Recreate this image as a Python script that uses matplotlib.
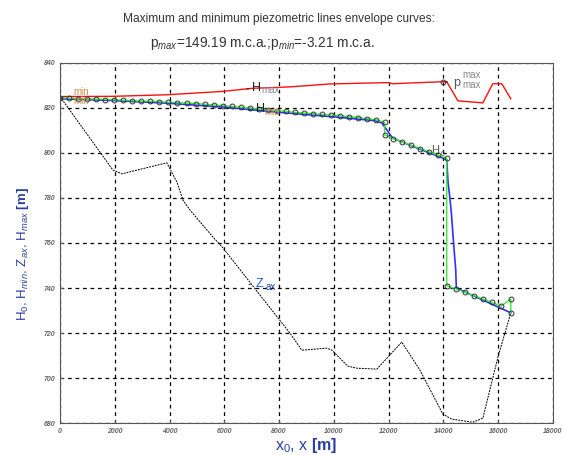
import matplotlib
matplotlib.use('Agg')
import matplotlib.pyplot as plt

plt.rcParams['font.family'] = ['Liberation Sans', 'DejaVu Sans']
plt.rcParams['mathtext.fontset'] = 'custom'
plt.rcParams['mathtext.rm'] = 'Liberation Sans'
plt.rcParams['mathtext.it'] = 'Liberation Sans:italic'
plt.rcParams['mathtext.bf'] = 'Liberation Sans:bold'

# H0 - initial piezometric line (nodes)
x0 = [0, 330, 660, 990, 1320, 1650, 1980, 2310, 2640, 2970, 3300, 3630, 3960,
      4290, 4620, 4950, 5280, 5610, 5940, 6270, 6600, 6930, 7260, 7590, 7920,
      8250, 8580, 8910, 9240, 9570, 9900, 10230, 10560, 10890, 11220, 11550,
      11850, 11850, 12170, 12500, 12820, 13150, 13470, 13800, 14120, 14120,
      14450, 14780, 15110, 15440, 15770, 16100, 16460, 16460]
h0 = [824.5, 824.3, 824.1, 824.0, 823.9, 823.7, 823.6, 823.4, 823.2, 823.0,
      822.9, 822.7, 822.5, 822.3, 822.1, 821.9, 821.6, 821.3, 821.0, 820.6,
      820.3, 819.9, 819.6, 819.2, 818.8, 818.4, 818.0, 817.7, 817.4, 817.1,
      816.8, 816.5, 816.1, 815.7, 815.2, 814.7, 813.5, 808.0, 806.3, 804.8,
      803.4, 801.9, 800.5, 799.0, 797.6, 741.0, 739.6, 738.1, 736.6, 735.1,
      733.6, 732.0, 735.1, 729.0]

# Hmin envelope
x_min = [0, 2000, 4000, 6000, 8000, 10000, 11500, 11750, 12150, 13150, 14120,
         14170, 14230, 14290, 14380, 14450, 14470, 16460]
h_min = [824.0, 823.2, 822.0, 820.3, 818.0, 816.0, 814.3, 813.3, 806.5, 801.6,
         797.0, 786.7, 780.6, 773.3, 758.4, 748.0, 740.0, 729.0]

# Hmax envelope
x_max = [0, 1900, 3900, 5950, 7050, 8400, 9850, 11970, 12150, 13980, 14120,
         14530, 15440, 15800, 16130, 16460]
h_max = [825.0, 825.1, 825.8, 827.3, 828.7, 829.3, 830.6, 831.2, 830.7, 831.6,
         831.6, 823.1, 822.2, 830.7, 830.7, 824.0]

# pipe axis (terrain)
x_ax = [0, 1930, 2260, 3900, 4270, 4490, 4740, 5580, 5950, 8394, 8830, 9740,
        9930, 10510, 10840, 11570, 12040, 12480, 13140, 13980, 14300, 15070,
        15440, 15990, 16460]
z_ax = [825.0, 792.4, 790.7, 795.6, 787.0, 779.0, 774.7, 762.7, 757.8, 720.0,
        712.4, 713.3, 712.4, 705.3, 704.4, 704.0, 710.2, 716.0, 703.6, 684.0,
        681.8, 680.4, 682.2, 709.3, 729.0]

fig = plt.figure(figsize=(5.66, 4.55), dpi=100)
ax = fig.add_axes([0.106, 0.070, 0.871, 0.792])

ax.plot(x_max, h_max, color='#ff1010', lw=1.0)
ax.plot(x_ax, z_ax, color='black', lw=0.7, ls=(0, (2, 1)))
ax.plot(x_min, h_min, color='#3030ff', lw=1.2)
ax.plot(x0, h0, color='#33ee33', lw=1.0, marker='o', ms=3.5,
        mfc='none', mec='#333333', mew=0.7)

# labels on curves
ax.annotate('H', xy=(6800, 828.4), xytext=(7000, 828.6), fontsize=9,
            color='#222222', va='center',
            arrowprops=dict(arrowstyle='-', color='#222222', lw=0.7))
ax.text(7350, 826.7, 'max', fontsize=7, color='#888899')
ax.annotate('H', xy=(6900, 818.8), xytext=(7150, 819.6), fontsize=9,
            color='#222222', va='center',
            arrowprops=dict(arrowstyle='-', color='#222222', lw=0.7))
ax.text(7450, 816.6, 'min', fontsize=7, color='#c89040')
ax.text(13550, 799.8, 'H', fontsize=8, color='#555555')
ax.text(13900, 798.5, '0', fontsize=5, color='#555555')
ax.annotate('Z', xy=(6900, 741.5), xytext=(7150, 741.7), fontsize=9,
            color='#1a5cc8', va='center',
            arrowprops=dict(arrowstyle='-', color='#222222', lw=0.7))
ax.text(7500, 739.0, 'ax', fontsize=7, color='#1a3f9f')

ax.plot([14000], [831.6], marker='o', ms=3.5, mfc='none', mec='#333333', mew=0.7)
ax.annotate('p', xy=(14050, 831.6), xytext=(14350, 831.2), fontsize=9,
            color='#555555', va='center',
            arrowprops=dict(arrowstyle='-', color='#222222', lw=0.7))
ax.text(14700, 833.2, 'max', fontsize=7, color='#888888')
ax.text(14700, 828.6, 'max', fontsize=7, color='#888888')

ax.plot([-20], [824.4], marker='o', ms=3.5, mfc='none', mec='#333333', mew=0.7)
ax.text(480, 825.6, 'min', fontsize=7, color='#c89040')
ax.text(480, 821.8, 'min', fontsize=7, color='#c89040')

ax.set_xlim(0, 18000)
ax.set_ylim(680, 840)
ax.set_xticks(range(0, 18001, 2000))
ax.set_yticks(range(680, 841, 20))
ax.tick_params(labelsize=5, colors='#666666', length=2, direction='in')
for lab in ax.get_xticklabels() + ax.get_yticklabels():
    lab.set_fontstyle('italic')
    lab.set_fontweight('bold')
ax.grid(True, color='black', ls=(0, (3, 3)), lw=0.9)
for s in ax.spines.values():
    s.set_color('#555555')
    s.set_linewidth(0.8)

ax.set_xlabel(r'x$_0$, x $\mathbf{[m]}$', fontsize=11.5, color='#2a3f9f', labelpad=1)
ax.set_ylabel(r'H$_0$, H$_{min}$, Z$_{ax}$, H$_{max}$ $\mathbf{[m]}$', fontsize=9.5,
              color='#2a3f9f')
ax.yaxis.set_label_coords(-0.058, 0.47)

fig.text(0.493, 0.958, 'Maximum and minimum piezometric lines envelope curves:',
         ha='center', va='center', fontsize=8.6, color='#333333')
fig.text(0.463, 0.905, r'p$_{max}$=149.19 m.c.a.;p$_{min}$=-3.21 m.c.a.',
         ha='center', va='center', fontsize=9.8, color='#333333')

fig.savefig('out.png', dpi=100)
